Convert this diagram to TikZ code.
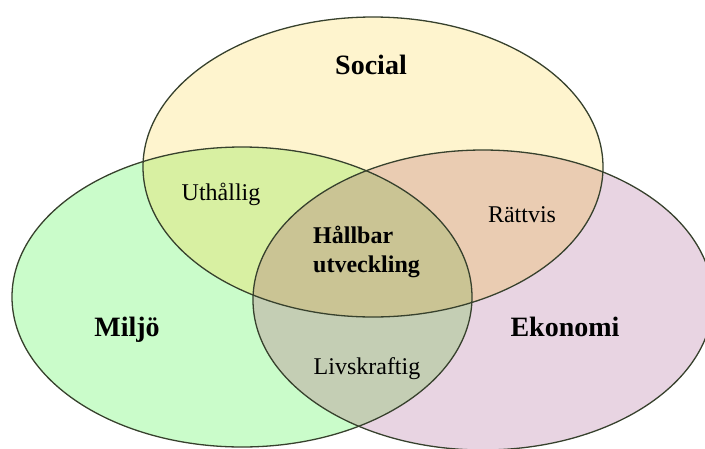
\documentclass[tikz,border=0pt]{standalone}
\usepackage{fontspec}
\setmainfont{Liberation Serif}

\definecolor{socialfarg}{RGB}{254,244,206}
\definecolor{miljofarg}{RGB}{202,252,202}
\definecolor{ekonomifarg}{RGB}{232,212,226}
\definecolor{uthalligfarg}{RGB}{216,240,162}
\definecolor{rattvisfarg}{RGB}{234,204,178}
\definecolor{livskraftigfarg}{RGB}{196,206,180}
\definecolor{hallbarfarg}{RGB}{202,196,148}
\definecolor{kantfarg}{RGB}{55,65,45}

\begin{document}
\begin{tikzpicture}[x=1pt, y=-1pt,
  rubrik/.style={anchor=base, inner sep=0pt, font=\bfseries\fontsize{28}{32}\selectfont},
  etikett/.style={anchor=base, inner sep=0pt, font=\fontsize{24}{29}\selectfont},
  kant/.style={draw=kantfarg, line width=1.3pt}]

  \useasboundingbox (0,0) rectangle (705,448);
  \clip (0,0) rectangle (705,448);

  % Mittpunkter
  \coordinate (social) at (373,167);
  \coordinate (miljo) at (242,297);
  \coordinate (ekonomi) at (483,300);

  % Ytor
  \fill[miljofarg] (miljo) ellipse [x radius=230pt, y radius=150pt];
  \fill[ekonomifarg] (ekonomi) ellipse [x radius=230pt, y radius=150pt];
  \fill[socialfarg] (social) ellipse [x radius=230pt, y radius=150pt];

  % Snitt
  \begin{scope}
    \clip (social) ellipse [x radius=230pt, y radius=150pt];
    \fill[uthalligfarg] (miljo) ellipse [x radius=230pt, y radius=150pt];
    \fill[rattvisfarg] (ekonomi) ellipse [x radius=230pt, y radius=150pt];
  \end{scope}
  \begin{scope}
    \clip (miljo) ellipse [x radius=230pt, y radius=150pt];
    \fill[livskraftigfarg] (ekonomi) ellipse [x radius=230pt, y radius=150pt];
    \clip (social) ellipse [x radius=230pt, y radius=150pt];
    \fill[hallbarfarg] (ekonomi) ellipse [x radius=230pt, y radius=150pt];
  \end{scope}

  % Kanter
  \foreach \c in {social,miljo,ekonomi}
    \draw[kant] (\c) ellipse [x radius=230pt, y radius=150pt];

  % Etiketter
  \node[rubrik] (socialtext) at (371,74) {Social};
  \node[rubrik] (miljotext) at (127,336) {Miljö};
  \node[rubrik] (ekonomitext) at (565,336) {Ekonomi};
  \node[etikett] (uthallig) at (221,200) {Uthållig};
  \node[etikett] (rattvis) at (522,222) {Rättvis};
  \node[etikett] (livskraftig) at (367,374) {Livskraftig};
  \node[etikett, font=\bfseries\fontsize{24}{29}\selectfont, anchor=west, align=left]
    (hallbar) at (313,252) {Hållbar\\utveckling};

\end{tikzpicture}
\end{document}
